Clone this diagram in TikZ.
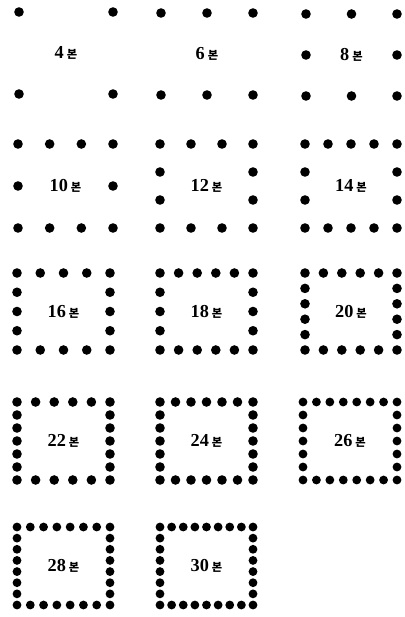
\documentclass[tikz,border=0pt]{standalone}
\usepackage{fontspec}
\newfontfamily\numfont{Liberation Serif}
\newfontfamily\kofont{Noto Sans CJK KR}
\usepackage{tikz}
\usetikzlibrary{positioning}
\tikzset{
  bondot/.style={fill=black},
  bonlabel/.style={font=\numfont\fontsize{13}{15}\selectfont\bfseries, inner sep=0pt}
}
% one square ring of dots: x-left, x-right, y-top, y-bottom, dots across, dots per side, count, name
\newcommand{\bonring}[8]{%
  \pgfmathtruncatemacro\nlast{#5-1}
  \pgfmathsetmacro\dx{(#2-#1)/(#5-1)}
  \pgfmathsetmacro\rad{#5>7 ? 4.4 : 4.8}
  \foreach \i in {0,...,\nlast} {
    \fill[bondot] ({#1+\i*\dx},#3) circle (\rad);
    \fill[bondot] ({#1+\i*\dx},#4) circle (\rad);
  }
  \ifnum#6>0
    \pgfmathsetmacro\dy{(#4-#3)/(#6+1)}
    \foreach \j in {1,...,#6} {
      \fill[bondot] (#1,{#3+\j*\dy}) circle (\rad);
      \fill[bondot] (#2,{#3+\j*\dy}) circle (\rad);
    }
  \fi
  \node[bonlabel] (#8) at ({(#1+#2)/2},{(#3+#4)/2}) {#7\,{\kofont\fontsize{8}{9}\selectfont\bfseries 본}};
}

\begin{document}
\begin{tikzpicture}[x=0.025cm,y=-0.025cm]
\useasboundingbox (0,0) rectangle (405,617);

%─── Row 1: 4, 6, 8 ──────────────────────────────────────────────────────────
\bonring{19}{113}{12}{94}{2}{0}{4}{bonA}
\bonring{161}{253}{13}{95}{3}{0}{6}{bonB}
\bonring{306}{397}{14}{96}{3}{1}{8}{bonC}

%─── Row 2: 10, 12, 14 ───────────────────────────────────────────────────────
\bonring{18}{113}{144}{228}{4}{1}{10}{bonD}
\bonring{160}{253}{144}{228}{4}{2}{12}{bonE}
\bonring{305}{397}{144}{228}{5}{2}{14}{bonF}

%─── Row 3: 16, 18, 20 ───────────────────────────────────────────────────────
\bonring{17}{110}{273}{350}{5}{3}{16}{bonG}
\bonring{160}{253}{273}{350}{6}{3}{18}{bonH}
\bonring{305}{397}{273}{350}{6}{4}{20}{bonI}

%─── Row 4: 22, 24, 26 ───────────────────────────────────────────────────────
\bonring{17}{110}{402}{480}{6}{5}{22}{bonJ}
\bonring{160}{253}{402}{480}{7}{5}{24}{bonK}
\bonring{303}{397}{402}{480}{8}{5}{26}{bonL}

%─── Row 5: 28, 30 ───────────────────────────────────────────────────────────
\bonring{17}{110}{527}{605}{8}{6}{28}{bonM}
\bonring{160}{253}{527}{605}{9}{6}{30}{bonN}

\end{tikzpicture}
\end{document}
